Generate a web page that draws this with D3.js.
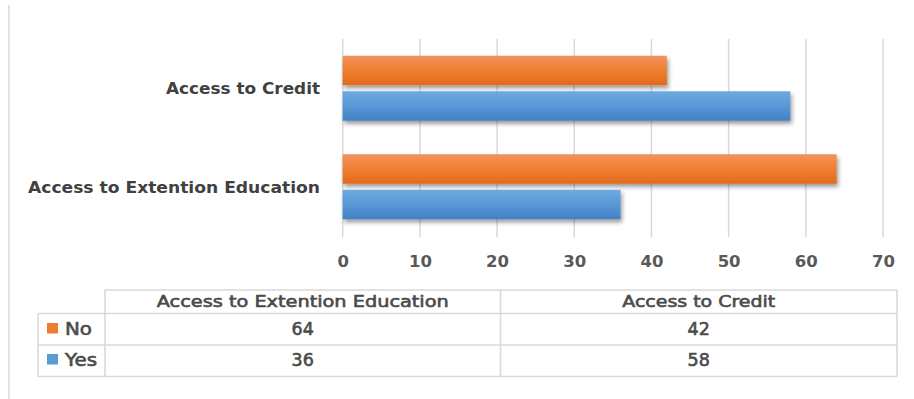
<!DOCTYPE html>
<html>
<head>
<meta charset="utf-8">
<script src="https://cdn.jsdelivr.net/npm/d3@7"></script>
<style>
  html, body { margin: 0; padding: 0; background: #ffffff; }
  svg { display: block; }
</style>
</head>
<body>
<svg id="chart" width="914" height="399"></svg>
<script>
// Survey responses (percent) by service
const categories = ["Access to Extention Education", "Access to Credit"];
const seriesNames = ["No", "Yes"];
const noValues = [64, 42];
const yesValues = [36, 58];
const xTicks = [0, 10, 20, 30, 40, 50, 60, 70];

const seriesValues = { "No": noValues, "Yes": yesValues };
const colors = { "No": "#ED7D31", "Yes": "#5B9BD5" };
const gradStops = {
  "No": ["#F3935C", "#F07F30", "#E2691B"],
  "Yes": ["#6EA9E1", "#5898D6", "#4181C5"]
};

const svg = d3.select("#chart");
const defs = svg.append("defs");

// soft drop shadow under bars
const shadow = defs.append("filter").attr("id", "barShadow")
  .attr("x", "-5%").attr("y", "-20%").attr("width", "110%").attr("height", "160%");
shadow.append("feDropShadow")
  .attr("dx", 1.5).attr("dy", 3).attr("stdDeviation", 2)
  .attr("flood-color", "#000").attr("flood-opacity", 0.4);

seriesNames.forEach(s => {
  const g = defs.append("linearGradient").attr("id", "grad-" + s)
    .attr("x1", 0).attr("y1", 0).attr("x2", 0).attr("y2", 1);
  g.append("stop").attr("offset", "0%").attr("stop-color", gradStops[s][0]);
  g.append("stop").attr("offset", "50%").attr("stop-color", gradStops[s][1]);
  g.append("stop").attr("offset", "100%").attr("stop-color", gradStops[s][2]);
});

// outer frame line on the left
svg.append("line")
  .attr("x1", 9).attr("x2", 9).attr("y1", 5).attr("y2", 399)
  .attr("stroke", "#d9d9d9").attr("stroke-width", 1.5);

const plotTop = 39, plotBottom = 236;
const x = d3.scaleLinear().domain([0, 70]).range([342.7, 883]);

// top category drawn first (Excel-style reversed order)
const y0 = d3.scaleBand()
  .domain(categories.slice().reverse())
  .range([plotTop, plotBottom])
  .paddingInner(0.34).paddingOuter(0.17);

const y1 = d3.scaleBand()
  .domain(seriesNames)
  .range([0, y0.bandwidth()])
  .paddingInner(0.17);

// vertical gridlines
svg.append("g").selectAll("line")
  .data(xTicks).join("line")
  .attr("x1", d => x(d)).attr("x2", d => x(d))
  .attr("y1", plotTop).attr("y2", plotBottom + 1)
  .attr("stroke", "#d9d9d9").attr("stroke-width", 1.5);

// bars
const groups = svg.append("g").selectAll("g")
  .data(categories).join("g")
  .attr("transform", c => `translate(0,${y0(c)})`);

groups.selectAll("rect")
  .data(c => seriesNames.map(s => ({ s, v: seriesValues[s][categories.indexOf(c)] })))
  .join("rect")
  .attr("x", x(0))
  .attr("y", d => y1(d.s))
  .attr("width", d => x(d.v) - x(0))
  .attr("height", y1.bandwidth())
  .attr("fill", d => `url(#grad-${d.s})`)
  .attr("filter", "url(#barShadow)");

// category labels
const labelWidths = { "Access to Extention Education": 292, "Access to Credit": 154 };
svg.append("g").selectAll("text")
  .data(categories).join("text")
  .attr("x", 320)
  .attr("y", c => y0(c) + y0.bandwidth() / 2 + 6)
  .attr("text-anchor", "end")
  .attr("font-family", "DejaVu Sans, sans-serif")
  .attr("font-weight", "bold")
  .attr("font-size", 16)
  .attr("fill", "#404040")
  .attr("textLength", c => labelWidths[c])
  .attr("lengthAdjust", "spacingAndGlyphs")
  .text(c => c);

// x axis tick labels
const xAxis = d3.axisBottom(x).tickValues(xTicks).tickSize(0).tickPadding(0);
const axisG = svg.append("g").attr("transform", `translate(0,${255})`).call(xAxis);
axisG.select(".domain").remove();
axisG.selectAll("text")
  .attr("font-family", "DejaVu Sans, sans-serif")
  .attr("font-weight", "bold")
  .attr("font-size", 16.5)
  .attr("fill", "#595959")
  .attr("dy", "0.75em");

// data table
const tLeft = 38, tLegendRight = 105, tRight = 897;
const rowEdges = [290, 313.5, 345, 376.5];
const colEdges = [tLegendRight, 500.5, tRight];
const tableStroke = "#d9d9d9";
const table = svg.append("g");

// header row lines (no legend cell in header)
table.append("line").attr("x1", tLegendRight).attr("x2", tRight)
  .attr("y1", rowEdges[0]).attr("y2", rowEdges[0]);
[1, 2, 3].forEach(i => {
  table.append("line").attr("x1", tLeft).attr("x2", tRight)
    .attr("y1", rowEdges[i]).attr("y2", rowEdges[i]);
});
table.append("line").attr("x1", tLeft).attr("x2", tLeft)
  .attr("y1", rowEdges[1]).attr("y2", rowEdges[3]);
colEdges.forEach(cx => {
  table.append("line").attr("x1", cx).attr("x2", cx)
    .attr("y1", rowEdges[0]).attr("y2", rowEdges[3]);
});
table.selectAll("line").attr("stroke", tableStroke).attr("stroke-width", 1.6);

const tableFont = "DejaVu Sans, sans-serif";
const tableInk = "#4a4a4a";
const inkWeight = 0.6;
const headerWidths = { "Access to Extention Education": 292, "Access to Credit": 153 };
categories.forEach((c, i) => {
  const cx = (colEdges[i] + colEdges[i + 1]) / 2;
  table.append("text")
    .attr("x", cx).attr("y", 306.5)
    .attr("text-anchor", "middle")
    .attr("font-family", tableFont)
    .attr("font-size", 16)
    .attr("fill", tableInk)
    .attr("stroke", tableInk).attr("stroke-width", inkWeight)
    .attr("textLength", headerWidths[c])
    .attr("lengthAdjust", "spacingAndGlyphs")
    .text(c);
});

const rowBaselines = { "No": 335, "Yes": 366 };
seriesNames.forEach((s, r) => {
  table.append("rect")
    .attr("x", 47).attr("y", rowBaselines[s] - 12)
    .attr("width", 11).attr("height", 10.5)
    .attr("fill", colors[s]);
  table.append("text")
    .attr("x", 65).attr("y", rowBaselines[s])
    .attr("font-family", tableFont)
    .attr("font-size", 17)
    .attr("fill", tableInk)
    .attr("stroke", tableInk).attr("stroke-width", inkWeight)
    .attr("textLength", s === "No" ? 27 : 32)
    .attr("lengthAdjust", "spacingAndGlyphs")
    .text(s);
  categories.forEach((c, i) => {
    const cx = (colEdges[i] + colEdges[i + 1]) / 2;
    table.append("text")
      .attr("x", cx).attr("y", rowBaselines[s])
      .attr("text-anchor", "middle")
      .attr("font-family", tableFont)
      .attr("font-size", 17.5)
      .attr("fill", tableInk)
      .attr("stroke", tableInk).attr("stroke-width", inkWeight)
      .text(seriesValues[s][i]);
  });
});
</script>
</body>
</html>
